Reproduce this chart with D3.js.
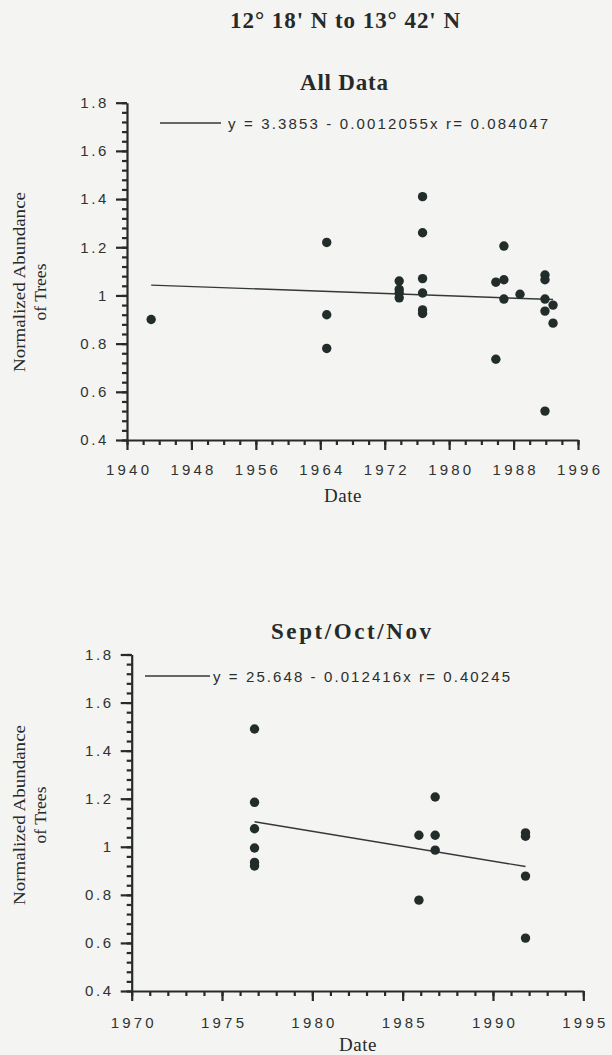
<!DOCTYPE html>
<html>
<head>
<meta charset="utf-8">
<script src="https://cdn.jsdelivr.net/npm/d3@7"></script>
<style>
  body { margin: 0; background: #f4f4f2; }
  svg { display: block; }
</style>
</head>
<body>
<div id="chart"></div>
<script>
// All Data panel
const allYears = [1943.0, 1964.8, 1964.8, 1964.8,
                  1973.8, 1973.8, 1973.8, 1973.8,
                  1976.7, 1976.7, 1976.7, 1976.7, 1976.7, 1976.7,
                  1985.8, 1985.8, 1986.8, 1986.8, 1986.8, 1988.8,
                  1991.9, 1991.9, 1991.9, 1991.9, 1991.9, 1992.9, 1992.9];
const allValues = [0.90, 1.22, 0.92, 0.78,
                   1.06, 1.025, 1.01, 0.99,
                   1.41, 1.26, 1.07, 1.01, 0.94, 0.925,
                   1.055, 0.735, 1.205, 1.065, 0.985, 1.005,
                   1.085, 1.065, 0.985, 0.935, 0.52, 0.96, 0.885];
const allFit = [3.3853, -0.0012055];          // intercept, slope
const allXTicks = [1940, 1948, 1956, 1964, 1972, 1980, 1988, 1996];

// Sept/Oct/Nov panel
const sonYears = [1976.8, 1976.8, 1976.8, 1976.8, 1976.8, 1976.8,
                  1985.9, 1985.9, 1986.8, 1986.8, 1986.8,
                  1991.8, 1991.8, 1991.8, 1991.8];
const sonValues = [1.49, 1.185, 1.075, 0.995, 0.935, 0.92,
                   1.048, 0.778, 1.207, 1.048, 0.986,
                   1.058, 1.044, 0.878, 0.62];
const sonFit = [25.648, -0.012416];
const sonXTicks = [1970, 1975, 1980, 1985, 1990, 1995];

const yTicks = [0.4, 0.6, 0.8, 1.0, 1.2, 1.4, 1.6, 1.8];

const ink = "#262a29";
const axisInk = "#262b2a";
const dotColor = "#222d2b";
const serif = "'Liberation Serif', 'DejaVu Serif', serif";
const sans = "'Liberation Sans', Arial, sans-serif";

const svg = d3.select("#chart").append("svg")
    .attr("width", 612)
    .attr("height", 1055);

svg.append("text")
    .attr("x", 345).attr("y", 28)
    .attr("text-anchor", "middle")
    .attr("textLength", 230).attr("lengthAdjust", "spacing")
    .style("font-family", serif).style("font-weight", "bold").style("font-size", "23px")
    .style("fill", ink)
    .text("12° 18' N to 13° 42' N");

function drawPanel(p) {
    const x = d3.scaleLinear().domain(p.xDomain).range([p.left, p.right]);
    const y = d3.scaleLinear().domain([0.4, 1.8]).range([p.bottom, p.top]);

    svg.append("text")
        .attr("x", p.titleX).attr("y", p.titleY)
        .attr("text-anchor", "middle")
        .attr("textLength", p.titleLen).attr("lengthAdjust", "spacing")
        .style("font-family", serif).style("font-weight", "bold").style("font-size", "23px")
        .style("fill", ink)
        .text(p.title);

    // y axis, minor ticks every 0.04
    const yMinor = d3.range(0.4, 1.8001, 0.04);
    const gym = svg.append("g")
        .attr("transform", `translate(${p.left},0)`)
        .call(d3.axisLeft(y).tickValues(yMinor).tickSize(5).tickFormat(""))
        .call(g => g.select(".domain").remove());
    const gy = svg.append("g")
        .attr("transform", `translate(${p.left},0)`)
        .call(d3.axisLeft(y).tickValues(yTicks).tickSize(11).tickSizeOuter(0).tickPadding(7)
            .tickFormat(d => Math.abs(d - 1) < 1e-9 ? "1" : d3.format(".1f")(d)));
    gy.selectAll("text")
        .style("font-family", sans).style("font-size", "15px")
        .style("letter-spacing", "2.6px").style("fill", "#2e3332");

    // x axis
    const xMinor = d3.range(p.xDomain[0], p.xDomain[1] + 0.001, p.xMinorStep);
    const gxm = svg.append("g")
        .attr("transform", `translate(0,${p.bottom})`)
        .call(d3.axisBottom(x).tickValues(xMinor).tickSize(5).tickFormat(""))
        .call(g => g.select(".domain").remove());
    const gx = svg.append("g")
        .attr("transform", `translate(0,${p.bottom})`)
        .call(d3.axisBottom(x).tickValues(p.xTicks).tickSize(10).tickSizeOuter(0)
            .tickPadding(p.xPad).tickFormat(d3.format("d")));
    gx.selectAll("text")
        .attr("dx", "1.6px")
        .style("font-family", sans).style("font-size", "15px")
        .style("letter-spacing", "3.2px").style("fill", "#2e3332");

    [gym, gy, gxm, gx].forEach(g => g.selectAll(".domain, .tick line")
        .style("stroke", axisInk).style("stroke-width", "2.2px"));

    svg.append("text")
        .attr("x", p.dateX).attr("y", p.dateY)
        .attr("text-anchor", "middle")
        .style("font-family", serif).style("font-size", "19px")
        .style("letter-spacing", "0.5px").style("fill", ink)
        .text("Date");

    // y title, two lines
    const yl = svg.append("g")
        .attr("transform", `translate(0,${p.ylabelY}) rotate(-90)`)
        .style("font-family", serif).style("font-size", "17.5px").style("fill", ink)
        .attr("text-anchor", "middle");
    yl.append("text").attr("x", 0).attr("y", 25)
        .attr("textLength", 180).attr("lengthAdjust", "spacingAndGlyphs")
        .text("Normalized Abundance");
    yl.append("text").attr("x", p.line2Shift).attr("y", 46)
        .text("of Trees");

    // regression line over the data extent
    const ext = d3.extent(p.years);
    const fitLine = d3.line()
        .x(d => x(d))
        .y(d => y(p.fit[0] + p.fit[1] * d));
    svg.append("path")
        .datum(ext)
        .attr("d", fitLine)
        .attr("fill", "none").attr("stroke", "#333938").attr("stroke-width", 1.4);

    // points
    svg.append("g").selectAll("circle")
        .data(p.years.map((yr, i) => [yr, p.values[i]]))
        .join("circle")
        .attr("cx", d => x(d[0]))
        .attr("cy", d => y(d[1]))
        .attr("r", 4.7)
        .attr("fill", dotColor);

    // legend
    svg.append("line")
        .attr("x1", p.legX1).attr("x2", p.legX2)
        .attr("y1", p.legY).attr("y2", p.legY)
        .attr("stroke", "#333938").attr("stroke-width", 1.5);
    svg.append("text")
        .attr("x", p.legTextX).attr("y", p.legY + 5.5)
        .attr("textLength", p.legTextLen).attr("lengthAdjust", "spacing")
        .style("font-family", sans).style("font-size", "15px").style("fill", "#2a2e2d")
        .text(p.legText);
}

drawPanel({
    title: "All Data", titleX: 344, titleY: 90, titleLen: 88,
    years: allYears, values: allValues, fit: allFit,
    xDomain: [1940, 1996], xTicks: allXTicks, xMinorStep: 2,
    left: 127, right: 578, top: 102.7, bottom: 440, xPad: 14,
    dateX: 343, dateY: 502, ylabelY: 282, line2Shift: -10,
    legX1: 160, legX2: 221, legY: 123, legTextX: 228, legTextLen: 320,
    legText: "y = 3.3853 - 0.0012055x r= 0.084047"
});

drawPanel({
    title: "Sept/Oct/Nov", titleX: 351, titleY: 639, titleLen: 160,
    years: sonYears, values: sonValues, fit: sonFit,
    xDomain: [1970, 1995], xTicks: sonXTicks, xMinorStep: 1,
    left: 131.7, right: 583.3, top: 654.5, bottom: 991, xPad: 16,
    dateX: 358, dateY: 1051, ylabelY: 815, line2Shift: 0,
    legX1: 145, legX2: 210, legY: 676, legTextX: 213, legTextLen: 297,
    legText: "y = 25.648 - 0.012416x r= 0.40245"
});
</script>
</body>
</html>
